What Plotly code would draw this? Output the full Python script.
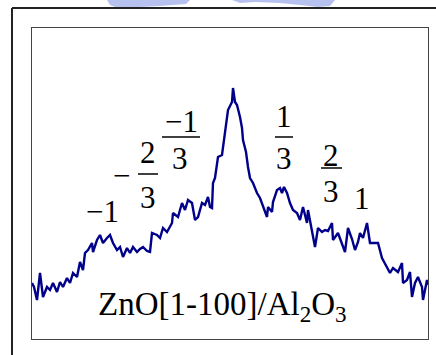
import plotly.graph_objects as go

# Scan across the reciprocal-lattice rod: channel vs. diffracted intensity (arb. units)
channel = [0, 2, 5, 8, 11, 15, 18, 21, 25, 28, 31, 35, 38, 41, 45, 48, 51, 53, 56, 60,
           61, 65, 68, 71, 75, 78, 81, 85, 88, 91, 95, 98, 101, 105, 108, 111, 115, 118,
           120, 125, 128, 131, 135, 138, 140, 141, 146, 150, 153, 156, 160, 163, 166, 170,
           173, 176, 178, 180, 181, 183, 186, 190, 193, 196, 200, 201, 203, 205, 208, 210,
           211, 214, 216, 218, 221, 225, 228, 231, 235, 236, 240, 241, 245, 248, 250, 252,
           255, 258, 261, 265, 268, 271, 275, 276, 280, 283, 286, 290, 293, 296, 300, 301,
           306, 310, 313, 316, 320, 323, 326, 328, 331, 335, 338, 343, 346, 350, 355, 358,
           361, 366, 370, 371, 375, 378, 380, 383, 386, 390, 391, 395, 396]
intensity = [56, 52, 39, 66, 42, 52, 49, 56, 47, 57, 52, 61, 56, 66, 62, 77, 69, 86, 89, 96,
             87, 99, 104, 96, 101, 104, 96, 89, 92, 82, 91, 86, 92, 87, 90, 92, 88, 87, 106,
             104, 101, 111, 107, 113, 116, 126, 122, 136, 129, 139, 136, 119, 122, 136, 134,
             142, 132, 131, 156, 161, 182, 184, 209, 229, 237, 251, 237, 234, 222, 211, 199,
             187, 172, 161, 156, 146, 141, 132, 122, 132, 127, 137, 149, 151, 146, 152, 146,
             136, 129, 126, 119, 132, 116, 129, 106, 92, 111, 107, 109, 108, 116, 99, 106, 94,
             87, 111, 100, 89, 97, 106, 101, 116, 96, 96, 96, 81, 71, 66, 71, 67, 76, 56, 59,
             67, 42, 56, 62, 52, 39, 59, 54]

LEFT, RIGHT, TOP, BOTTOM = 32, 428, 28, 339
W, H = 436, 355
NAVY = "#00008b"
SERIF = "Liberation Serif, Times New Roman, serif"


def dx(xp):
    """Horizontal screen position -> channel axis."""
    return xp - LEFT


def dy(yp):
    """Vertical screen position -> intensity axis."""
    return BOTTOM - yp


def paper_x(xp):
    return (xp - LEFT) / (RIGHT - LEFT)


def paper_y(yp):
    return (BOTTOM - yp) / (BOTTOM - TOP)


fig = go.Figure()
fig.add_trace(go.Scatter(x=channel, y=intensity, mode="lines",
                         line=dict(color=NAVY, width=2.4), hoverinfo="skip"))

annotations = []


def label(text, xp, yp, size=31):
    annotations.append(dict(x=dx(xp), y=dy(yp), xref="x", yref="y", text=text,
                            showarrow=False, xanchor="center", yanchor="middle",
                            font=dict(family=SERIF, size=size, color="black")))


shapes = []


def bar(x0, x1, yp):
    shapes.append(dict(type="line", xref="x", yref="y", x0=dx(x0), x1=dx(x1),
                       y0=dy(yp), y1=dy(yp), line=dict(color="black", width=1.5)))


# Satellite order labels
label("\u22121", 102, 211)
label("\u2212", 121, 175)
label("2", 148, 152)
bar(138, 158, 174)
label("3", 148, 197)
label("\u22121", 181, 121)
bar(162, 200, 137)
label("3", 180, 158)
label("1", 284, 116)
bar(275, 293, 137)
label("3", 284, 158)
label("2", 331, 155)
bar(321, 342, 168)
label("3", 331, 191)
label("1", 362, 198)

# Sample description
annotations.append(dict(x=dx(222), y=dy(306), xref="x", yref="y",
                        text="ZnO[1-100]/Al<sub>2</sub>O<sub>3</sub>",
                        showarrow=False, xanchor="center", yanchor="middle",
                        font=dict(family=SERIF, size=33, color="black")))

# Outer page frame
shapes.append(dict(type="line", xref="paper", yref="paper",
                   x0=paper_x(12), x1=paper_x(W + 2), y0=paper_y(8), y1=paper_y(8),
                   line=dict(color="#222222", width=2)))
shapes.append(dict(type="line", xref="paper", yref="paper",
                   x0=paper_x(12), x1=paper_x(12), y0=paper_y(8), y1=paper_y(H + 2),
                   line=dict(color="#222222", width=2)))

# Faint emblem along the top edge
emblem = [
    [(107, 0), (190, 0), (186, 4), (160, 6), (140, 7), (118, 8), (110, 5)],
    [(232, 0), (335, 0), (330, 6), (318, 7), (300, 5), (280, 3), (255, 2), (240, 3)],
]
for poly in emblem:
    path = "M " + " L ".join(f"{paper_x(a)},{paper_y(b)}" for a, b in poly) + " Z"
    shapes.append(dict(type="path", xref="paper", yref="paper", path=path,
                       fillcolor="#aab6ec", line=dict(width=0), opacity=0.85, layer="below"))

fig.update_layout(
    width=W, height=H,
    margin=dict(l=LEFT, r=W - RIGHT, t=TOP, b=H - BOTTOM, pad=0),
    paper_bgcolor="white", plot_bgcolor="white",
    showlegend=False,
    annotations=annotations,
    shapes=shapes,
    xaxis=dict(range=[0, RIGHT - LEFT], showgrid=False, zeroline=False,
               showticklabels=False, ticks="", showline=True, mirror=True,
               linecolor="#444444", linewidth=1, fixedrange=True),
    yaxis=dict(range=[0, BOTTOM - TOP], showgrid=False, zeroline=False,
               showticklabels=False, ticks="", showline=True, mirror=True,
               linecolor="#444444", linewidth=1, fixedrange=True),
)

fig.write_html("out.html", config={"displayModeBar": False})
